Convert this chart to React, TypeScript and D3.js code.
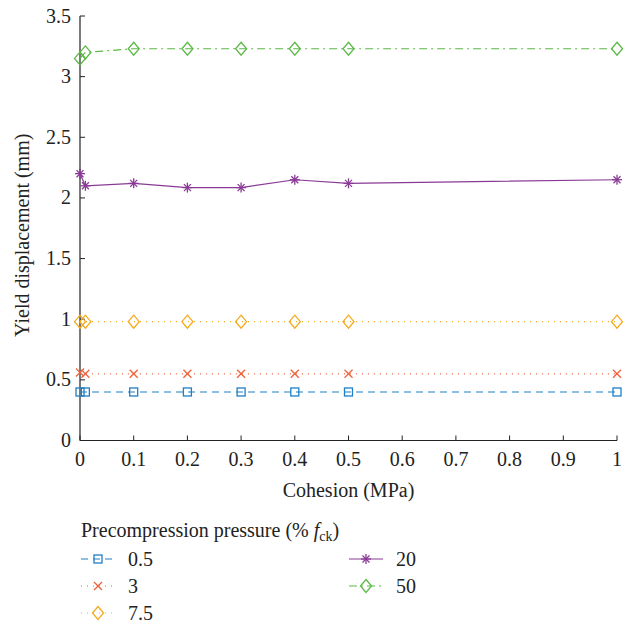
import React from "react";
import * as d3 from "d3";

const cohesion = [0, 0.01, 0.1, 0.2, 0.3, 0.4, 0.5, 1];
const s05 = [0.4, 0.4, 0.4, 0.4, 0.4, 0.4, 0.4, 0.4];
const s3 = [0.56, 0.55, 0.55, 0.55, 0.55, 0.55, 0.55, 0.55];
const s75 = [0.98, 0.98, 0.98, 0.98, 0.98, 0.98, 0.98, 0.98];
const s20 = [2.2, 2.1, 2.12, 2.085, 2.085, 2.15, 2.12, 2.15];
const s50 = [3.15, 3.2, 3.23, 3.23, 3.23, 3.23, 3.23, 3.23];
const seriesNames = ["0.5", "3", "7.5", "20", "50"];
const xTicks = [0, 0.1, 0.2, 0.3, 0.4, 0.5, 0.6, 0.7, 0.8, 0.9, 1];
const yTicks = [0, 0.5, 1, 1.5, 2, 2.5, 3, 3.5];

const series = [
  { name: seriesNames[0], values: s05, color: "#1f7fc6", dash: "7,5", marker: "square" },
  { name: seriesNames[1], values: s3, color: "#f0603a", dash: "1,5", marker: "x" },
  { name: seriesNames[2], values: s75, color: "#f5aa1e", dash: "1,5", marker: "diamond" },
  { name: seriesNames[3], values: s20, color: "#8a3a96", dash: "", marker: "star" },
  { name: seriesNames[4], values: s50, color: "#5cb947", dash: "8,4,2,4", marker: "diamond" },
];

const TXT = { fontFamily: "Liberation Serif" };
const FS = 20;

function Marker({ type, x, y, color }: { type: string; x: number; y: number; color: string }) {
  const sw = 1.3;
  if (type === "square") {
    return (
      <g stroke={color} strokeWidth={sw} fill="none">
        <rect x={x - 4} y={y - 4} width={8} height={8} />
      </g>
    );
  }
  if (type === "x") {
    return (
      <g stroke={color} strokeWidth={sw} fill="none">
        <line x1={x - 4} y1={y - 4} x2={x + 4} y2={y + 4} />
        <line x1={x - 4} y1={y + 4} x2={x + 4} y2={y - 4} />
      </g>
    );
  }
  if (type === "diamond") {
    return (
      <g stroke={color} strokeWidth={sw} fill="none">
        <path d={`M${x},${y - 6.5}L${x + 5.5},${y}L${x},${y + 6.5}L${x - 5.5},${y}Z`} />
      </g>
    );
  }
  const r = 5;
  return (
    <g stroke={color} strokeWidth={sw} fill="none">
      <line x1={x - r} y1={y} x2={x + r} y2={y} />
      <line x1={x} y1={y - r} x2={x} y2={y + r} />
      <line x1={x - r * 0.7} y1={y - r * 0.7} x2={x + r * 0.7} y2={y + r * 0.7} />
      <line x1={x - r * 0.7} y1={y + r * 0.7} x2={x + r * 0.7} y2={y - r * 0.7} />
    </g>
  );
}

export default function App() {
  const W = 631;
  const H = 622;
  const x = d3.scaleLinear().domain([0, 1]).range([80, 617]);
  const y = d3.scaleLinear().domain([0, 3.5]).range([440.5, 16]);
  const line = d3
    .line<number>()
    .x((_, i) => x(cohesion[i]))
    .y((d) => y(d));

  const legendPos = [
    { lx: 81, ly: 559 },
    { lx: 81, ly: 586 },
    { lx: 81, ly: 613 },
    { lx: 349, ly: 559 },
    { lx: 349, ly: 586 },
  ];

  return (
    <svg
      width={W}
      height={H}
      style={{ position: "absolute", left: 0, top: 0, background: "#fff" }}
    >
      <rect width={W} height={H} fill="#fff" />
      <line x1={x(0)} y1={y(0)} x2={x(1)} y2={y(0)} stroke="#222" strokeWidth={1.2} />
      <line x1={x(0)} y1={y(0)} x2={x(0)} y2={y(3.5)} stroke="#222" strokeWidth={1.2} />
      {xTicks.map((t) => (
        <g key={"xt" + t}>
          <line x1={x(t)} y1={y(0)} x2={x(t)} y2={y(0) - 5} stroke="#222" strokeWidth={1} />
          <text x={x(t)} y={466} textAnchor="middle" fontSize={FS} fill="#222" style={TXT}>
            {String(t)}
          </text>
        </g>
      ))}
      {yTicks.map((t) => (
        <g key={"yt" + t}>
          <line x1={x(0)} y1={y(t)} x2={x(0) + 5} y2={y(t)} stroke="#222" strokeWidth={1} />
          <text x={71} y={y(t) + 6.5} textAnchor="end" fontSize={FS} fill="#222" style={TXT}>
            {String(t)}
          </text>
        </g>
      ))}
      <text x={x(0.5)} y={497} textAnchor="middle" fontSize={FS} fill="#222" style={TXT}>
        Cohesion (MPa)
      </text>
      <text
        transform={`translate(29,${y(1.75) + 7}) rotate(-90)`}
        textAnchor="middle"
        fontSize={FS}
        fill="#222"
        style={TXT}
      >
        Yield displacement (mm)
      </text>
      {series.map((s) => (
        <g key={s.name}>
          <path
            d={line(s.values) || ""}
            fill="none"
            stroke={s.color}
            strokeWidth={1.2}
            strokeDasharray={s.dash || undefined}
          />
          {s.values.map((v, i) => (
            <Marker key={i} type={s.marker} x={x(cohesion[i])} y={y(v)} color={s.color} />
          ))}
        </g>
      ))}
      <text x={81} y={537} fontSize={FS} fill="#222" style={TXT}>
        Precompression pressure (%{" "}
        <tspan fontStyle="italic">f</tspan>
        <tspan fontSize={14} dy={4}>ck</tspan>
        <tspan dy={-4}>)</tspan>
      </text>
      {series.map((s, i) => {
        const p = legendPos[i];
        return (
          <g key={"lg" + s.name}>
            <line
              x1={p.lx}
              y1={p.ly}
              x2={p.lx + 34}
              y2={p.ly}
              stroke={s.color}
              strokeWidth={1.2}
              strokeDasharray={s.dash || undefined}
            />
            <Marker type={s.marker} x={p.lx + 17} y={p.ly} color={s.color} />
            <text x={p.lx + 47} y={p.ly + 6.5} fontSize={FS} fill="#222" style={TXT}>
              {s.name}
            </text>
          </g>
        );
      })}
    </svg>
  );
}
